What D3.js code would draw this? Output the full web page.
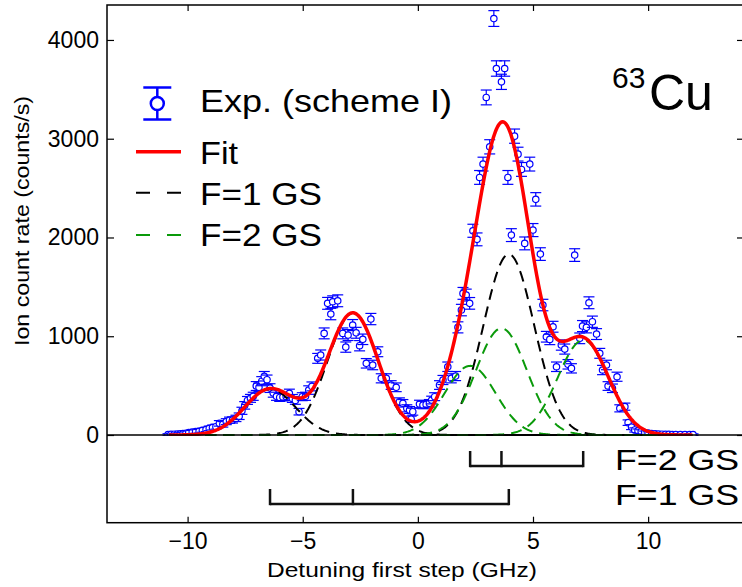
<!DOCTYPE html>
<html><head><meta charset="utf-8">
<script src="https://cdn.jsdelivr.net/npm/d3@7"></script>
<style>
body{margin:0;background:#fff}
svg{display:block;font-family:"Liberation Sans",Arial,Helvetica,sans-serif}
</style>
</head><body><svg id="c" width="742" height="587"></svg>
<script>
// ---- data ----
const expX = [-10.85,-10.72,-10.58,-10.45,-10.32,-10.2,-10.07,-9.95,-9.8,-9.65,-9.5,-9.36,-9.2,-9.06,-8.92,-8.77,-8.62,-8.47,-8.32,-8.18,-8.05,-7.9,-7.76,-7.64,-7.52,-7.4,-7.27,-7.15,-7.02,-6.9,-6.78,-6.67,-6.55,-6.42,-6.28,-6.14,-6.0,-5.86,-5.72,-5.58,-5.45,-5.32,-5.16,-5.02,-4.88,-4.74,-4.6,-4.35,-4.22,-4.07,-3.92,-3.78,-3.7,-3.48,-3.26,-3.13,-3.03,-2.83,-2.68,-2.53,-2.39,-2.24,-2.04,-1.96,-1.74,-1.59,-1.37,-1.16,-0.94,-0.8,-0.65,-0.48,-0.36,-0.29,-0.22,0.07,0.22,0.36,0.5,0.6,0.73,0.94,1.09,1.3,1.45,1.64,1.74,1.89,1.96,2.1,2.25,2.39,2.57,2.68,2.83,2.97,3.12,3.3,3.41,3.63,3.77,3.91,4.06,4.2,4.35,4.5,4.64,4.86,5.0,5.12,5.32,5.43,5.58,5.73,5.87,6.02,6.23,6.38,6.52,6.67,6.81,7.03,7.15,7.32,7.43,7.58,7.76,7.9,8.02,8.19,8.26,8.45,8.65,8.77,8.99,9.13,9.28,9.42,9.56,9.7,9.85,10.0,10.15,10.3,10.45,10.6,10.75,10.9,11.05,11.2,11.4,11.6,11.8,11.95];
const expY = [5,7,8,10,12,15,18,25,30,34,38,48,55,67,75,84,118,108,135,150,152,168,190,245,300,350,371,392,496,483,545,595,560,475,425,392,380,385,390,422,370,350,236,388,392,455,492,776,810,1029,1333,1225,1349,1359,1029,890,1012,1113,1035,904,969,726,1174,709,843,574,574,506,483,337,321,270,253,160,236,314,304,310,321,354,388,506,557,691,574,597,1090,1265,1434,1417,1333,2068,1981,2608,2743,3418,2918,4217,3711,3576,3711,2608,2024,3026,2844,2689,1940,2743,2075,2386,1832,1316,995,968,1096,691,911,870,716,675,1822,979,1103,1090,1339,1147,1022,827,658,709,496,473,590,270,287,125,80,51,42,35,25,20,15,12,10,8,7,6,5,5,5,4,4,4];
const expErr = [8,9,9,10,11,12,13,15,16,17,18,20,21,23,24,25,28,28,30,31,31,32,33,36,38,40,40,41,45,44,46,48,47,44,42,41,40,40,40,42,40,39,33,40,41,43,45,50,51,55,60,58,60,60,55,52,55,56,55,52,53,48,57,48,50,46,46,44,44,39,38,36,35,31,35,38,38,38,38,39,40,44,46,48,46,46,56,58,60,60,59,66,65,70,70,75,72,80,78,77,78,70,65,72,70,70,65,70,66,68,64,58,54,53,55,48,52,51,48,47,64,54,56,56,60,57,55,50,47,48,44,43,46,36,36,28,25,21,19,18,15,13,12,11,10,9,9,8,8,8,8,8,8,8];

// fit components (line centres in GHz, peak heights in counts/s)
const f1Centers = [-6.42, -2.82, 3.95];
const f1Amps    = [465, 1235, 1830];
const f2Centers = [2.27, 3.63, 7.18];
const f2Amps    = [700, 1080, 960];
const lineFWHM  = 2.6;
const fitRange  = [-10.8, 11.95];

const xTicks = [-10, -5, 0, 5, 10];
const yTicks = [0, 1000, 2000, 3000, 4000];
const legendLabels = ["Exp. (scheme I)", "Fit", "F=1 GS", "F=2 GS"];
const bracketLabels = ["F=2 GS", "F=1 GS"];

// ---- drawing ----
const svg = d3.select("#c");
const L = 107, R = 743, T = 5, B = 522.7;
const x = d3.scaleLinear().domain([-13.5, 14.12]).range([L, R]);
const y = d3.scaleLinear().domain([-888, 4354]).range([B, T]);

const RED = "#ff0000", BLUE = "#0000ff", GREEN = "#0a9a0a";

const gauss = (c, a) => v => a * Math.exp(-4 * Math.LN2 * (v - c) * (v - c) / (lineFWHM * lineFWHM));
const comps1 = f1Centers.map((c, i) => gauss(c, f1Amps[i]));
const comps2 = f2Centers.map((c, i) => gauss(c, f2Amps[i]));
const all = comps1.concat(comps2);
const xs = d3.range(fitRange[0], fitRange[1] + 1e-9, 0.04);
const line = d3.line().x(d => x(d[0])).y(d => y(d[1]));

svg.append("defs").append("clipPath").attr("id", "pc")
  .append("rect").attr("x", L).attr("y", T).attr("width", R - L).attr("height", y(0) - T + 1);

const plot = svg.append("g").attr("clip-path", "url(#pc)");

// zero line separating panels
svg.append("line").attr("x1", L).attr("x2", R).attr("y1", y(0)).attr("y2", y(0))
  .attr("stroke", "#000").attr("stroke-width", 1.5);

// data points with error bars
const pts = plot.append("g");
expX.forEach((xv, i) => {
  const cx = x(xv), cy = y(expY[i]), e = expErr[i];
  const g = pts.append("g").attr("stroke", BLUE).attr("stroke-width", 1.2).attr("fill", "none");
  g.append("line").attr("x1", cx).attr("x2", cx).attr("y1", y(expY[i] + e)).attr("y2", y(expY[i] - e));
  g.append("line").attr("x1", cx - 5.5).attr("x2", cx + 5.5).attr("y1", y(expY[i] + e)).attr("y2", y(expY[i] + e));
  g.append("line").attr("x1", cx - 5.5).attr("x2", cx + 5.5).attr("y1", y(expY[i] - e)).attr("y2", y(expY[i] - e));
  g.append("circle").attr("cx", cx).attr("cy", cy).attr("r", 3.2).attr("fill", "#fff");
});

// component curves
comps1.forEach(f => plot.append("path").datum(xs.map(v => [v, f(v)])).attr("d", line)
  .attr("fill", "none").attr("stroke", "#000").attr("stroke-width", 2).attr("stroke-dasharray", "11,7"));
comps2.forEach(f => plot.append("path").datum(xs.map(v => [v, f(v)])).attr("d", line)
  .attr("fill", "none").attr("stroke", GREEN).attr("stroke-width", 2).attr("stroke-dasharray", "11,7"));
// total fit
plot.append("path").datum(xs.map(v => [v, d3.sum(all, f => f(v))])).attr("d", line)
  .attr("fill", "none").attr("stroke", RED).attr("stroke-width", 3.5);

// frame
svg.append("rect").attr("x", L).attr("y", T).attr("width", R - L).attr("height", B - T)
  .attr("fill", "none").attr("stroke", "#000").attr("stroke-width", 1.5);

// axes
svg.append("g").attr("transform", `translate(0,${B})`)
  .call(d3.axisBottom(x).tickValues(xTicks).tickSize(-6).tickPadding(10).tickFormat(d3.format("d")));
svg.append("g").attr("transform", `translate(${L},0)`)
  .call(d3.axisLeft(y).tickValues(yTicks).tickSize(-7).tickPadding(8).tickFormat(d3.format("d")));
svg.append("g").attr("transform", `translate(0,${T})`)
  .call(d3.axisTop(x).tickValues(xTicks).tickSize(-6).tickFormat(""));
svg.append("g").attr("transform", `translate(${R},0)`)
  .call(d3.axisRight(y).tickValues(yTicks).tickSize(-6).tickFormat(""));
svg.selectAll(".domain").remove();
svg.selectAll(".tick line").attr("stroke", "#000").attr("stroke-width", 1.2);
svg.selectAll(".tick text").attr("font-size", 23).attr("fill", "#000")
  .attr("font-family", '"Liberation Sans",Arial,sans-serif');

// axis titles
svg.append("text").attr("x", 402).attr("y", 577).attr("text-anchor", "middle")
  .attr("font-size", 21).attr("textLength", 270).attr("lengthAdjust", "spacingAndGlyphs")
  .text("Detuning first step (GHz)");
svg.append("text").attr("transform", "translate(29,221) rotate(-90)").attr("text-anchor", "middle")
  .attr("font-size", 20).attr("textLength", 250).attr("lengthAdjust", "spacingAndGlyphs")
  .text("Ion count rate (counts/s)");

// hyperfine brackets
const brackets = [
  {c: f2Centers, yl: 466, yt: 451, label: bracketLabels[0], ty: 470},
  {c: f1Centers, yl: 504, yt: 489, label: bracketLabels[1], ty: 505}
];
brackets.forEach(b => {
  const g = svg.append("g").attr("stroke", "#111").attr("stroke-width", 2.5).attr("fill", "none");
  const ext = d3.extent(b.c);
  g.append("line").attr("x1", x(ext[0])).attr("x2", x(ext[1])).attr("y1", b.yl).attr("y2", b.yl);
  b.c.forEach(c => g.append("line").attr("x1", x(c)).attr("x2", x(c)).attr("y1", b.yt).attr("y2", b.yl + 1.2));
  svg.append("text").attr("x", 615).attr("y", b.ty).attr("font-size", 30)
    .attr("textLength", 124).attr("lengthAdjust", "spacingAndGlyphs").text(b.label);
});

// legend
const lg = svg.append("g");
const ex = 157.3;
lg.append("line").attr("x1", ex).attr("x2", ex).attr("y1", 87.5).attr("y2", 119.5).attr("stroke", BLUE).attr("stroke-width", 2.5);
[87.5, 119.5].forEach(yy => lg.append("line").attr("x1", ex - 14).attr("x2", ex + 14).attr("y1", yy).attr("y2", yy)
  .attr("stroke", BLUE).attr("stroke-width", 2.5));
lg.append("circle").attr("cx", ex).attr("cy", 103.5).attr("r", 6.5).attr("fill", "#fff").attr("stroke", BLUE).attr("stroke-width", 2.5);
lg.append("line").attr("x1", 136).attr("x2", 181).attr("y1", 151.7).attr("y2", 151.7).attr("stroke", RED).attr("stroke-width", 3.5);
lg.append("line").attr("x1", 136).attr("x2", 181).attr("y1", 192.7).attr("y2", 192.7).attr("stroke", "#000").attr("stroke-width", 2).attr("stroke-dasharray", "14,17");
lg.append("line").attr("x1", 136).attr("x2", 181).attr("y1", 235).attr("y2", 235).attr("stroke", GREEN).attr("stroke-width", 2).attr("stroke-dasharray", "14,17");
const legY = [112, 164, 205, 246], legW = [252, 38, 122, 122];
legendLabels.forEach((t, i) => lg.append("text").attr("x", 200).attr("y", legY[i]).attr("font-size", 32)
  .attr("textLength", legW[i]).attr("lengthAdjust", "spacingAndGlyphs").text(t));

// isotope label
svg.append("text").attr("x", 612).attr("y", 88).attr("font-size", 30).text("63");
svg.append("text").attr("x", 649).attr("y", 110).attr("font-size", 50).text("Cu");
</script>
</body></html>
